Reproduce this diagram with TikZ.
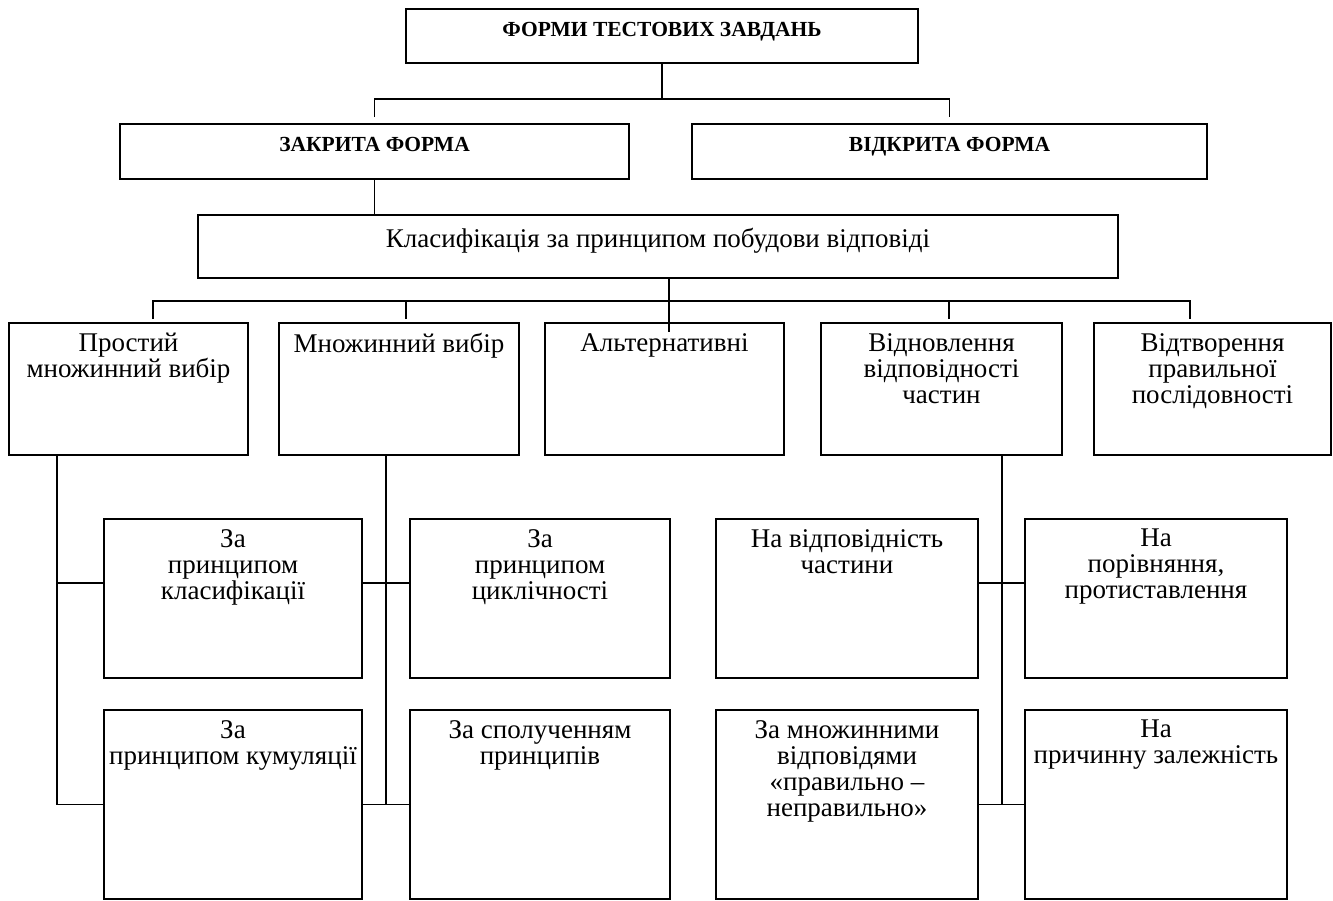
\documentclass[tikz,border=0pt]{standalone}
\usepackage{fontspec}
\setmainfont{Liberation Serif}
\usetikzlibrary{positioning}

\begin{document}
\begin{tikzpicture}[
  x=1bp, y=-1bp,
  box/.style={draw, line width=2.2bp, anchor=north west, outer sep=0pt, inner sep=0pt},
  head/.style={anchor=north, align=center, inner sep=0pt, yshift=-13bp,
    font=\fontsize{21.5bp}{24bp}\selectfont\bfseries},
  caption/.style={anchor=north, align=center, inner sep=0pt, yshift=-10bp,
    font=\fontsize{27bp}{26bp}\selectfont},
  link/.style={line width=1.2bp}
]
\useasboundingbox (0,0) rectangle (1333,900);

% top levels
\node[box, minimum width=512bp, minimum height=54bp,
  label={[head]north:ФОРМИ ТЕСТОВИХ ЗАВДАНЬ}] (forms) at (406,9) {};
\node[box, minimum width=509bp, minimum height=55bp,
  label={[head]north:ЗАКРИТА ФОРМА}] (closed) at (120,124) {};
\node[box, minimum width=515bp, minimum height=55bp,
  label={[head]north:ВІДКРИТА ФОРМА}] (open) at (692,124) {};
\node[box, minimum width=920bp, minimum height=63bp,
  label={[caption, yshift=-3bp]north:Класифікація за принципом побудови відповіді}] (classes) at (198,215) {};

% answer types
\node[box, minimum width=239bp, minimum height=132bp,
  label={[caption]north:{Простий\\множинний вибір}}] (simple) at (9,323) {};
\node[box, minimum width=240bp, minimum height=132bp,
  label={[caption]north:{Множинний вибір}}] (multi) at (279,323) {};
\node[box, minimum width=239bp, minimum height=132bp,
  label={[caption]north:{Альтернативні}}] (alt) at (545,323) {};
\node[box, minimum width=241bp, minimum height=132bp,
  label={[caption]north:{Відновлення\\відповідності\\частин}}] (match) at (821,323) {};
\node[box, minimum width=237bp, minimum height=132bp,
  label={[caption]north:{Відтворення\\правильної\\послідовності}}] (order) at (1094,323) {};

% sub types
\node[box, minimum width=258bp, minimum height=159bp,
  label={[caption]north:{За\\принципом\\класифікації}}] (classif) at (104,519) {};
\node[box, minimum width=258bp, minimum height=189bp,
  label={[caption]north:{За\\принципом кумуляції}}] (cumul) at (104,710) {};
\node[box, minimum width=260bp, minimum height=159bp,
  label={[caption]north:{За\\принципом\\циклічності}}] (cyclic) at (410,519) {};
\node[box, minimum width=260bp, minimum height=189bp,
  label={[caption]north:{За сполученням\\принципів}}] (combo) at (410,710) {};
\node[box, minimum width=262bp, minimum height=159bp,
  label={[caption]north:{На відповідність\\частини}}] (partmatch) at (716,519) {};
\node[box, minimum width=262bp, minimum height=189bp,
  label={[caption]north:{За множинними\\відповідями\\«правильно –\\неправильно»}}] (multians) at (716,710) {};
\node[box, minimum width=262bp, minimum height=159bp,
  label={[caption]north:{На\\порівняння,\\протиставлення}}] (compare) at (1025,519) {};
\node[box, minimum width=262bp, minimum height=189bp,
  label={[caption]north:{На\\причинну залежність}}] (causal) at (1025,710) {};

% tree lines
\coordinate (top-bus) at (forms.south |- 0,99);
\draw[link] (forms.south) -- (top-bus);
\draw[link] ([yshift=7bp]closed.north) |- (top-bus) -| ([yshift=7bp]open.north);
\draw[link] (closed.south) -- (closed.south |- classes.north);

\draw[link] ([xshift=11bp]classes.south) -- ++(0,54);
\draw[link] ([xshift=24.5bp,yshift=4bp]simple.north) -- ++(0,-18)
  -| ([xshift=-22.5bp,yshift=4bp]order.north);
\draw[link] ([xshift=7bp,yshift=4bp]multi.north) -- ++(0,-18);
\draw[link] ([xshift=7.5bp,yshift=4bp]match.north) -- ++(0,-18);

\draw[link] ([xshift=-71.5bp]simple.south) |- (cumul.west);
\draw[link] ([yshift=15.5bp]classif.west) -- ++(-47,0);
\draw[link] ([xshift=-13bp]multi.south) -- ([xshift=-13bp]multi.south |- combo.west);
\draw[link] ([yshift=15.5bp]classif.east) -- ([yshift=15.5bp]cyclic.west);
\draw[link] (cumul.east) -- (combo.west);
\draw[link] ([xshift=60.5bp]match.south) -- ([xshift=60.5bp]match.south |- multians.east);
\draw[link] ([yshift=15.5bp]partmatch.east) -- ([yshift=15.5bp]compare.west);
\draw[link] (multians.east) -- (causal.west);
\end{tikzpicture}
\end{document}
